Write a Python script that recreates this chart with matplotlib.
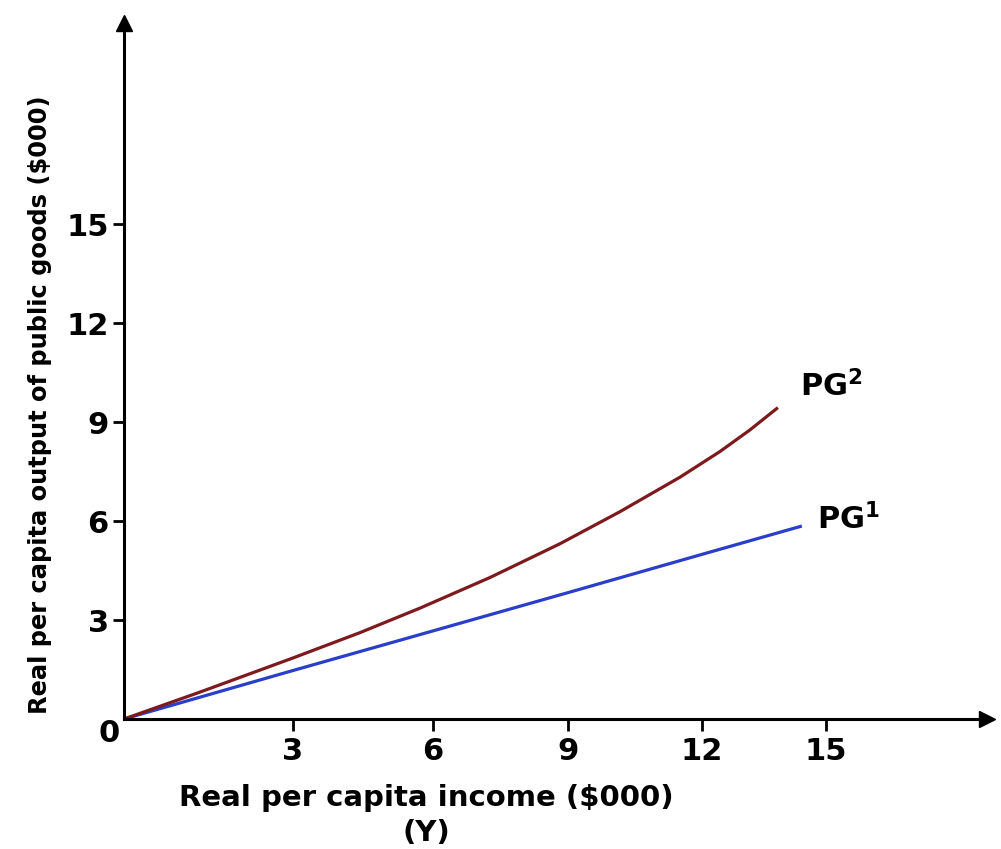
import numpy as np
import matplotlib
matplotlib.use('Agg')
import matplotlib.pyplot as plt

# values ($000)
pg1_x = [0, 3, 6, 9, 12, 14.42]
pg1_y = [0, 1.47, 2.67, 3.83, 4.99, 5.85]
pg2_x = [0, 1.34, 3, 4.44, 5.72, 7.27, 8.82, 10.16, 11.51, 12.44, 13.16, 13.84]
pg2_y = [0, 0.81, 1.85, 2.62, 3.36, 4.29, 5.31, 6.28, 7.33, 8.11, 8.76, 9.44]
x_ticks = [3, 6, 9, 12, 15]
y_ticks = [3, 6, 9, 12, 15]

# the drawn x axis is not evenly spaced: value -> drawn length
scale_vals = [0, 3, 6, 9, 12, 15, 20]
scale_pos = [0, 169, 309, 444, 578, 702, 908.7]


def fwd(v):
    return np.interp(v, scale_vals, scale_pos)


def inv(p):
    return np.interp(p, scale_pos, scale_vals)


def main():
    plt.rcParams['mathtext.fontset'] = 'dejavusans'
    fig = plt.figure(figsize=(10.01, 8.49), dpi=100)
    ax = fig.add_axes([124 / 1001, 130 / 849, 863 / 1001, 696 / 849])

    ax.set_xscale('function', functions=(fwd, inv))
    ax.set_xlim(0, 18.9)
    ax.set_ylim(0, 21.1)

    ax.plot(pg1_x, pg1_y, color='#2a3fc8', lw=2.3, solid_capstyle='butt')
    ax.plot(pg2_x, pg2_y, color='#7d1a1e', lw=2.3, solid_capstyle='butt',
            solid_joinstyle='round')

    for s in ['top', 'right']:
        ax.spines[s].set_visible(False)
    for s in ['left', 'bottom']:
        ax.spines[s].set_linewidth(2.2)
    # arrow heads on the axes
    ax.plot(1, 0, '>k', ms=11, transform=ax.transAxes, clip_on=False)
    ax.plot(0, 1, '^k', ms=11, transform=ax.transAxes, clip_on=False)

    ax.set_xticks(x_ticks)
    ax.set_xticklabels([str(t) for t in x_ticks], fontsize=22,
                       fontweight='bold')
    ax.set_yticks(y_ticks)
    ax.set_yticklabels([str(t) for t in y_ticks], fontsize=22,
                       fontweight='bold')
    ax.xaxis.set_minor_locator(plt.NullLocator())
    ax.tick_params(axis='x', length=8.6, width=2, pad=4)
    ax.tick_params(axis='y', length=8, width=2, pad=3)

    fig.text(109 / 1001, 1 - 733 / 849, '0', fontsize=22,
             fontweight='bold', ha='center', va='center')

    fig.text(426 / 1001, 1 - 798 / 849, 'Real per capita income ($000)',
             fontsize=21, fontweight='bold', ha='center', va='center')
    fig.text(426 / 1001, 1 - 833 / 849, '(Y)', fontsize=21,
             fontweight='bold', ha='center', va='center')
    fig.text(40 / 1001, 1 - 405 / 849,
             'Real per capita output of public goods ($000)',
             fontsize=17.4, fontweight='bold', rotation=90,
             ha='center', va='center')

    fig.text(800 / 1001, 1 - 386 / 849, r'PG$^{\mathbf{2}}$', fontsize=22,
             fontweight='bold', ha='left', va='center')
    fig.text(817 / 1001, 1 - 519 / 849, r'PG$^{\mathbf{1}}$', fontsize=22,
             fontweight='bold', ha='left', va='center')

    fig.savefig('out.png', dpi=100)


if __name__ == '__main__':
    main()
